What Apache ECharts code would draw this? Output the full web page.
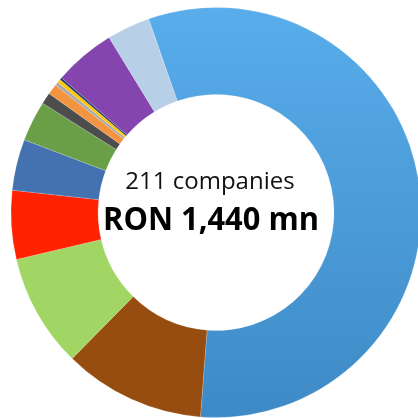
<!DOCTYPE html>
<html><head><meta charset="utf-8">
<script src="https://cdn.jsdelivr.net/npm/echarts@6/dist/echarts.min.js"></script>
<style>html,body{margin:0;padding:0;background:#fff}#c{width:418px;height:418px}</style>
</head><body><div id="c"></div>
<script>
const categories = ['A','B','C','D','E','F','G','H','I','J','K','L','M'];
const values = [815, 161, 129, 78, 58, 46, 13, 12, 4, 4, 2.4, 70, 49];
const colors = [null,'#974D0F','#A2D664','#FF2200','#4472B0','#6A9E47','#4D4D4D','#F29440','#AAAAAA','#FFC600','#1F3864','#8445AE','#B8CFE8'];
const subtitle = '211 companies';
const total = 'RON 1,440 mn';

const chart = echarts.init(document.getElementById('c'));
const bigGrad = new echarts.graphic.LinearGradient(0,0,0,1,[{offset:0,color:'#58ADEA'},{offset:1,color:'#3E8AC6'}]);
chart.setOption({
  animation:false,
  series:[{
    type:'pie',
    center:[216,212.5],
    radius:[118,205],
    startAngle:109.2,
    clockwise:true,
    label:{show:false},
    labelLine:{show:false},
    emphasis:{disabled:true},
    itemStyle:{borderColor:'rgba(255,255,255,0.35)',borderWidth:0.5},
    data: categories.map((c,i)=>({name:c,value:values[i],itemStyle:{color: i===0?bigGrad:colors[i]}}))
  }],
  graphic:[
    {type:'text',x:210,y:182,style:{text:subtitle,font:'24px "Open Sans"',fill:'#111',align:'center',verticalAlign:'middle'}},
    {type:'text',x:211,y:220.5,scaleX:0.935,style:{text:total,font:'bold 33px "Open Sans"',fill:'#000',align:'center',verticalAlign:'middle'}}
  ]
});
</script></body></html>
